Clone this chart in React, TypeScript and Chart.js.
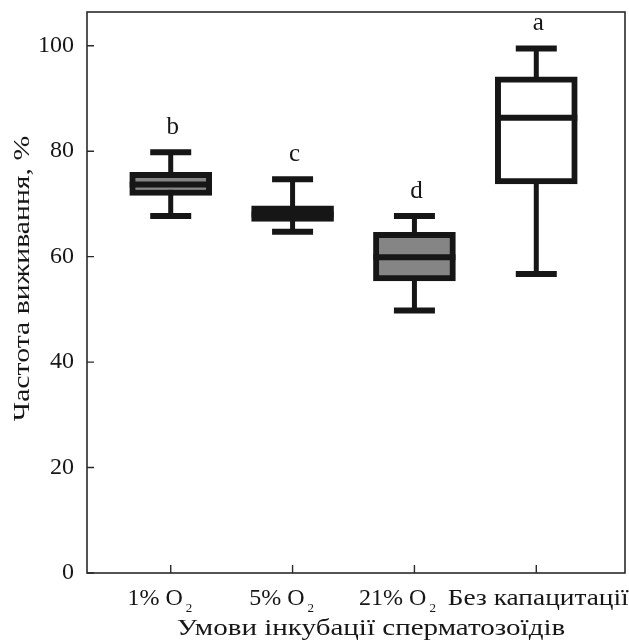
import React, { useEffect, useRef } from "react";
import { Chart, registerables } from "chart.js";

Chart.register(...registerables);

// ---- Data ----
const CATEGORIES = ["1% O", "5% O", "21% O", "Без капацитації"];
const SUBSCRIPTS = ["2", "2", "2", ""];
const WHISKER_LOW = [67.7, 64.7, 49.8, 56.7];
const Q1 = [71.6, 66.7, 55.4, 73.8];
const MEDIAN = [73.7, 68.0, 59.9, 86.35];
const Q3 = [76.0, 69.65, 64.6, 94.1];
const WHISKER_HIGH = [79.8, 74.7, 67.7, 99.5];
const LETTERS = ["b", "c", "d", "a"];
const BOX_FILLS = ["#858585", "#151515", "#858585", "#ffffff"];
const Y_TITLE = "Частота виживання, %";
const X_TITLE = "Умови інкубації сперматозоїдів";

const FONT = "'Liberation Serif', 'DejaVu Serif', serif";
const INK = "#161616";

function stretchedText(ctx: any, text: string, x: number, y: number, sx: number, align: string) {
  ctx.save();
  ctx.translate(x, y);
  ctx.scale(sx, 1);
  ctx.textAlign = align;
  ctx.fillText(text, 0, 0);
  ctx.restore();
}

const extras = {
  id: "boxExtras",
  beforeDatasetsDraw(chart: any) {
    const { ctx, scales } = chart;
    const x = scales.x, y = scales.y;
    ctx.save();
    ctx.strokeStyle = INK;
    ctx.lineCap = "butt";
    CATEGORIES.forEach((_, i) => {
      const px = x.getPixelForValue(i);
      const lo = y.getPixelForValue(WHISKER_LOW[i]);
      const hi = y.getPixelForValue(WHISKER_HIGH[i]);
      ctx.lineWidth = 5;
      ctx.beginPath();
      ctx.moveTo(px, lo);
      ctx.lineTo(px, hi);
      ctx.stroke();
      ctx.lineWidth = 6;
      ctx.beginPath();
      ctx.moveTo(px - 20.5, lo);
      ctx.lineTo(px + 20.5, lo);
      ctx.moveTo(px - 20.5, hi);
      ctx.lineTo(px + 20.5, hi);
      ctx.stroke();
    });
    ctx.restore();
  },
  afterDatasetsDraw(chart: any) {
    const { ctx, scales } = chart;
    const x = scales.x, y = scales.y;
    const meta = chart.getDatasetMeta(0);
    ctx.save();
    CATEGORIES.forEach((_, i) => {
      const bar = meta.data[i];
      const half = bar.width / 2;
      const px = x.getPixelForValue(i);
      const my = y.getPixelForValue(MEDIAN[i]);
      ctx.strokeStyle = INK;
      ctx.lineWidth = 6;
      ctx.beginPath();
      ctx.moveTo(bar.x - half, my);
      ctx.lineTo(bar.x + half, my);
      ctx.stroke();
      ctx.fillStyle = INK;
      ctx.font = `25px ${FONT}`;
      ctx.textAlign = "center";
      ctx.textBaseline = "alphabetic";
      ctx.fillText(LETTERS[i], px + 2, y.getPixelForValue(WHISKER_HIGH[i]) - 18);
    });
    ctx.restore();
  },
  afterDraw(chart: any) {
    const { ctx, scales, chartArea } = chart;
    const x = scales.x, y = scales.y;
    const { left, right, top, bottom } = chartArea;
    ctx.save();
    // frame
    ctx.strokeStyle = "#2a2a2a";
    ctx.lineWidth = 1.6;
    ctx.strokeRect(left, top, right - left, bottom - top);
    // inward y ticks
    ctx.lineWidth = 1.4;
    ctx.beginPath();
    y.ticks.forEach((t: any) => {
      const py = y.getPixelForValue(t.value);
      ctx.moveTo(left, py);
      ctx.lineTo(left + 7, py);
    });
    // inward x ticks
    CATEGORIES.forEach((_, i) => {
      const px = x.getPixelForValue(i);
      ctx.moveTo(px, bottom);
      ctx.lineTo(px, bottom - 8);
    });
    ctx.stroke();
    // x labels with subscripts
    ctx.fillStyle = INK;
    ctx.textBaseline = "alphabetic";
    ctx.textAlign = "left";
    CATEGORIES.forEach((label, i) => {
      const sub = SUBSCRIPTS[i];
      const tick = x.getPixelForValue(i);
      ctx.font = `24px ${FONT}`;
      if (sub) {
        const w1 = ctx.measureText(label).width;
        ctx.font = `13px ${FONT}`;
        const w2 = ctx.measureText(sub).width + 3;
        const start = tick + 21.5 - (w1 + w2);
        ctx.font = `24px ${FONT}`;
        ctx.textAlign = "left";
        ctx.fillText(label, start, 605);
        ctx.font = `13px ${FONT}`;
        ctx.fillText(sub, start + w1 + 3, 612);
      } else {
        stretchedText(ctx, label, tick + 2, 605, 1.14, "center");
      }
    });
    // x title
    ctx.font = `24px ${FONT}`;
    stretchedText(ctx, X_TITLE, 371, 635, 1.21, "center");
    // y title
    ctx.translate(29, 278.5);
    ctx.rotate(-Math.PI / 2);
    ctx.scale(1.24, 1);
    ctx.textAlign = "center";
    ctx.fillText(Y_TITLE, 0, 0);
    ctx.restore();
  },
};

export default function App() {
  const ref = useRef<HTMLCanvasElement | null>(null);
  useEffect(() => {
    if (!ref.current) return;
    const chart = new Chart(ref.current, {
      type: "bar",
      data: {
        datasets: [
          {
            data: CATEGORIES.map((_, i) => ({ x: i, y: [Q1[i], Q3[i]] })) as any,
            backgroundColor: BOX_FILLS,
            borderColor: INK,
            borderWidth: 6,
            borderSkipped: false,
            barThickness: 82,
          },
        ],
      },
      options: {
        animation: false,
        responsive: false,
        devicePixelRatio: 1,
        layout: { padding: { top: 0, right: 4, left: 0, bottom: 0 } },
        plugins: { legend: { display: false }, tooltip: { enabled: false } },
        scales: {
          x: {
            type: "linear",
            offset: false,
            min: -0.687,
            max: 3.728,
            ticks: { display: false, stepSize: 1, includeBounds: false },
            grid: { display: false, offset: false },
            border: { display: false },
            afterFit: (s: any) => {
              s.height = 70;
              s.paddingLeft = 0;
              s.paddingRight = 0;
            },
          },
          y: {
            type: "linear",
            min: 0,
            max: 106.4,
            ticks: {
              stepSize: 20,
              includeBounds: false,
              padding: 13,
              color: INK,
              font: { family: FONT, size: 24 },
            },
            grid: { display: false, drawTicks: false },
            border: { display: false },
            afterFit: (s: any) => {
              s.width = 87;
              s.paddingTop = 12;
              s.paddingBottom = 0;
            },
          },
        },
      },
      plugins: [extras],
    });
    return () => chart.destroy();
  }, []);
  return (
    <div style={{ position: "absolute", left: 0, top: 0, width: 629, height: 643, background: "#fff" }}>
      <canvas ref={ref} width={629} height={643} />
    </div>
  );
}
